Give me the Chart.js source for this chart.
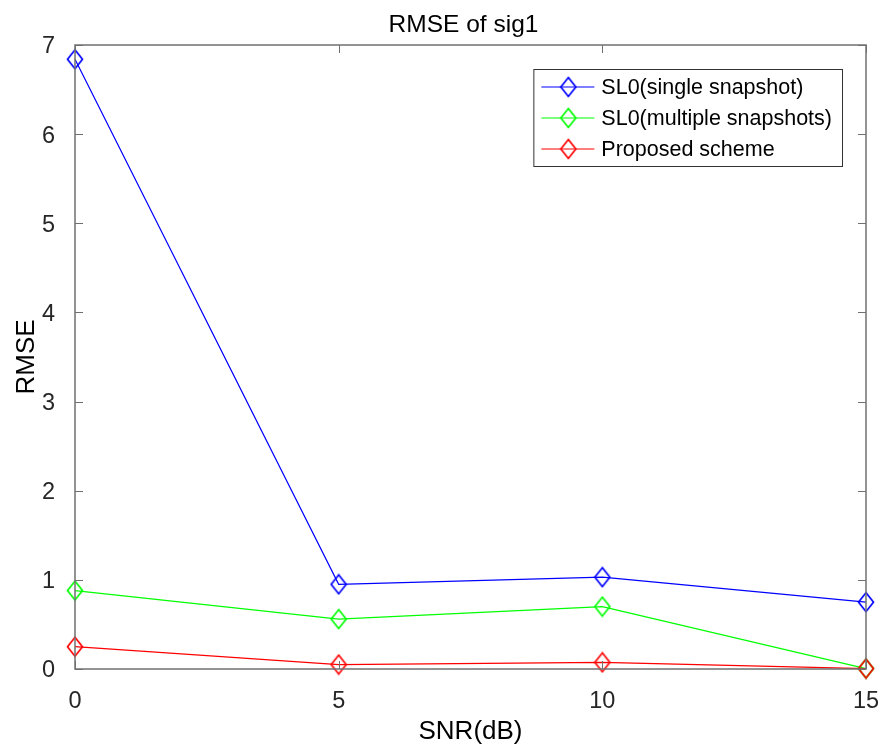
<!DOCTYPE html>
<html>
<head>
<meta charset="utf-8">
<script src="https://cdn.jsdelivr.net/npm/chart.js@4/dist/chart.umd.min.js"></script>
<style>
  html, body { margin: 0; padding: 0; background: #fff; }
  #wrap { width: 883px; height: 749px; }
</style>
</head>
<body>
<div id="wrap"><canvas id="rmseChart" width="883" height="749"></canvas></div>
<script>
// Data
const snr = [0, 5, 10, 15];
const sl0Single = [6.84, 0.95, 1.03, 0.75];
const sl0Multi = [0.88, 0.56, 0.70, 0.005];
const proposed = [0.25, 0.05, 0.075, 0.005];
const xTicks = [0, 5, 10, 15];
const yTicks = [0, 1, 2, 3, 4, 5, 6, 7];
const titleText = 'RMSE of sig1';

const FONT = "'Liberation Sans', Arial, Helvetica, sans-serif";
const AXIS_COLOR = '#707070';

// MATLAB-like diamond marker (taller than wide)
function diamond(color) {
    const w = 18, h = 22;
    const c = document.createElement('canvas');
    c.width = w; c.height = h;
    const g = c.getContext('2d');
    g.strokeStyle = color;
    g.lineWidth = 1.7;
    g.beginPath();
    g.moveTo(w / 2, 1.5);
    g.lineTo(w - 1.5, h / 2);
    g.lineTo(w / 2, h - 1.5);
    g.lineTo(1.5, h / 2);
    g.closePath();
    g.stroke();
    return c;
}

// later series drawn on top, like MATLAB's hold on
function series(label, values, color, order) {
    return {
        label: label,
        data: snr.map((x, i) => ({ x: x, y: values[i] })),
        borderColor: color,
        backgroundColor: color,
        borderWidth: 1.2,
        pointStyle: diamond(color),
        pointRadius: 9,
        tension: 0,
        clip: false,
        order: order
    };
}

// Box + inward ticks on all four sides, title centred over the axes
const boxPlugin = {
    id: 'box',
    afterDatasetsDraw(chart) {
        const { ctx, chartArea: a, scales } = chart;
        ctx.save();
        ctx.strokeStyle = AXIS_COLOR;
        ctx.lineWidth = 1.5;
        ctx.strokeRect(a.left, a.top, a.right - a.left, a.bottom - a.top);
        ctx.lineWidth = 1;
        ctx.beginPath();
        const len = 8;
        xTicks.forEach(v => {
            const px = Math.round(scales.x.getPixelForValue(v)) + 0.5;
            ctx.moveTo(px, a.bottom); ctx.lineTo(px, a.bottom - len);
            ctx.moveTo(px, a.top); ctx.lineTo(px, a.top + len);
        });
        yTicks.forEach(v => {
            const py = Math.round(scales.y.getPixelForValue(v)) + 0.5;
            ctx.moveTo(a.left, py); ctx.lineTo(a.left + len, py);
            ctx.moveTo(a.right, py); ctx.lineTo(a.right - len, py);
        });
        ctx.stroke();

        ctx.fillStyle = '#000';
        ctx.font = '24.5px ' + FONT;
        ctx.textAlign = 'center';
        ctx.textBaseline = 'alphabetic';
        ctx.fillText(titleText, (a.left + a.right) / 2 - 7, a.top - 13);
        ctx.restore();
    }
};

// Legend box in the upper right of the axes
const legendPlugin = {
    id: 'boxLegend',
    afterDraw(chart) {
        const { ctx, chartArea: a } = chart;
        const sets = chart.data.datasets;
        ctx.save();
        ctx.font = '21.5px ' + FONT;
        const textW = Math.max(...sets.map(d => ctx.measureText(d.label).width));
        const rowH = 31;
        const boxW = 68 + textW + 10;
        const boxH = rowH * sets.length + 4;
        const right = a.right - 24;
        const top = a.top + 24;
        const left = right - boxW;
        ctx.fillStyle = '#fff';
        ctx.fillRect(left, top, boxW, boxH);
        ctx.strokeStyle = '#333';
        ctx.lineWidth = 1;
        ctx.strokeRect(left + 0.5, top + 0.5, boxW, boxH);
        sets.forEach((d, i) => {
            const cy = top + 18 + i * rowH;
            ctx.strokeStyle = d.borderColor;
            ctx.lineWidth = 1.2;
            ctx.beginPath();
            ctx.moveTo(left + 8, cy); ctx.lineTo(left + 61, cy);
            ctx.stroke();
            const m = d.pointStyle;
            ctx.drawImage(m, left + 35 - m.width / 2, cy - m.height / 2);
            ctx.fillStyle = '#000';
            ctx.textBaseline = 'middle';
            ctx.fillText(d.label, left + 68, cy + 1);
        });
        ctx.restore();
    }
};

const ctx = document.getElementById('rmseChart').getContext('2d');
const chart = new Chart(ctx, {
    type: 'line',
    data: {
        datasets: [
            series('SL0(single snapshot)', sl0Single, '#0000ff', 3),
            series('SL0(multiple snapshots)', sl0Multi, '#00ff00', 2),
            series('Proposed scheme', proposed, '#ff0000', 1)
        ]
    },
    options: {
        responsive: false,
        animation: false,
        layout: { padding: { left: 0, right: 17, top: 45, bottom: 0 } },
        plugins: {
            legend: { display: false },
            tooltip: { enabled: false },
            title: { display: false }
        },
        scales: {
            x: {
                type: 'linear',
                min: 0,
                max: 15,
                afterBuildTicks: s => { s.ticks = xTicks.map(v => ({ value: v })); },
                afterFit: s => { s.height = 80; s.paddingLeft = 0; s.paddingRight = 0; },
                grid: { display: false },
                border: { display: false },
                ticks: { color: '#262626', padding: 10, font: { family: FONT, size: 23.5 } },
                title: {
                    display: true,
                    text: 'SNR(dB)',
                    color: '#000',
                    font: { family: FONT, size: 26, lineHeight: 1.2 },
                    padding: { top: 0, bottom: 1.5 }
                }
            },
            y: {
                type: 'linear',
                min: 0,
                max: 7,
                afterBuildTicks: s => { s.ticks = yTicks.map(v => ({ value: v })); },
                afterFit: s => { s.width = 75; s.paddingTop = 0; s.paddingBottom = 0; },
                grid: { display: false },
                border: { display: false },
                ticks: { color: '#262626', padding: 12, labelOffset: 2, font: { family: FONT, size: 23.5 } },
                title: {
                    display: true,
                    text: 'RMSE',
                    color: '#000',
                    font: { family: FONT, size: 26, lineHeight: 1.2 },
                    padding: { top: 11.4, bottom: 0 }
                }
            }
        }
    },
    plugins: [boxPlugin, legendPlugin]
});
</script>
</body>
</html>
